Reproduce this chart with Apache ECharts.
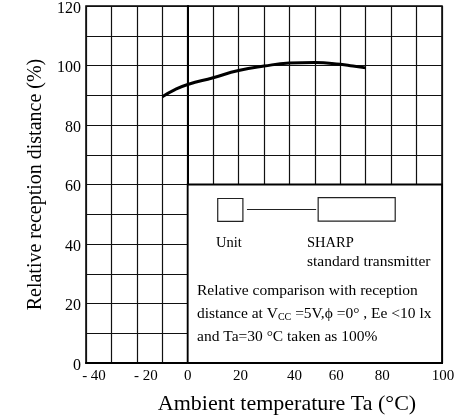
<!DOCTYPE html>
<html><head><meta charset="utf-8">
<script src="https://cdn.jsdelivr.net/npm/echarts@6/dist/echarts.min.js"></script>
<style>html,body{margin:0;padding:0;background:#fff}#c{width:458px;height:420px}</style>
</head><body><div id="c"></div>
<script>
const temperature = [-10, -5, 0, 10, 20, 30, 40, 50, 60, 65, 70];
const relDistance = [89.5, 91.9, 93.6, 95.9, 98.3, 99.8, 100.8, 101, 100.4, 99.8, 99.2];
const xLabelTicks = [-40, -20, 0, 20, 40, 60, 80, 100];
const yLabelTicks = [0, 20, 40, 60, 80, 100, 120];
const boxRange = [[0, 0], [100, 60]];
const noteLines = [
  'Relative comparison with reception',
  'distance at {n|V}{s|CC}{n| =5V,ϕ =0° , Ee <10 lx}',
  'and Ta=30 °C taken as 100%'
];

const font = 'Liberation Serif, Times New Roman, serif';
// small horizontal nudges (px) of the printed x labels, in xLabelTicks order
const xLabelNudge = [8, 9, 0, 2, 5, -4, -9, 1];
const xRich = {};
xLabelNudge.forEach((s, i) => {
  xRich['l' + i] = {fontFamily: font, fontSize: 15, color: '#000',
    padding: s >= 0 ? [0, 0, 0, 2 * s] : [0, -2 * s, 0, 0]};
});

const chart = echarts.init(document.getElementById('c'), null, {renderer: 'canvas'});
const seriesData = temperature.map((t, i) => [t, relDistance[i]]);

chart.setOption({
  animation: false,
  backgroundColor: '#fff',
  grid: {left: 86, right: 16, top: 6, bottom: 57, containLabel: false, outerBoundsMode: 'none',
    show: true, borderColor: '#000', borderWidth: 1.5, backgroundColor: 'transparent'},
  xAxis: {
    type: 'value', min: -40, max: 100, interval: 10,
    name: 'Ambient temperature Ta (°C)', nameLocation: 'middle', nameGap: 30,
    nameTextStyle: {fontFamily: font, fontSize: 22, color: '#000', padding: [0, 0, 0, 46]},
    axisLine: {show: true, lineStyle: {color: '#000', width: 2}},
    axisTick: {show: false},
    axisLabel: {
      fontFamily: font, fontSize: 15, color: '#000', margin: 6, rich: xRich,
      formatter: v => {
        const i = xLabelTicks.indexOf(v);
        if (i < 0) return '';
        const t = v < 0 ? '- ' + Math.abs(v) : String(v);
        return '{l' + i + '|' + t + '}';
      }
    },
    splitLine: {show: true, lineStyle: {color: '#111', width: 1.2}}
  },
  yAxis: {
    type: 'value', min: 0, max: 120, interval: 10,
    name: 'Relative reception distance (%)', nameLocation: 'middle', nameGap: 39,
    nameTextStyle: {fontFamily: font, fontSize: 20, color: '#000'},
    axisLine: {show: true, lineStyle: {color: '#000', width: 2}},
    axisTick: {show: false},
    axisLabel: {
      fontFamily: font, fontSize: 16, color: '#000', margin: 5,
      rich: {y: {fontFamily: font, fontSize: 16, color: '#000', padding: [5, 0, 0, 0]}},
      formatter: v => yLabelTicks.includes(v) ? '{y|' + v + '}' : ''
    },
    splitLine: {show: true, lineStyle: {color: '#111', width: 1.2}}
  },
  series: [{
    type: 'line', data: seriesData, smooth: 0.5, showSymbol: false,
    lineStyle: {color: '#000', width: 3},
    z: 5,
    markArea: {
      silent: true,
      itemStyle: {color: '#fff', borderColor: '#000', borderWidth: 1.8},
      data: [[{coord: boxRange[0]}, {coord: boxRange[1]}]]
    }
  }]
});

const p = (x, y) => chart.convertToPixel({gridIndex: 0}, [x, y]);
const rectFromData = (x1, y1, x2, y2) => {
  const a = p(x1, y1), b = p(x2, y2);
  return {x: Math.min(a[0], b[0]), y: Math.min(a[1], b[1]), width: Math.abs(b[0] - a[0]), height: Math.abs(b[1] - a[1])};
};
const unitRect = rectFromData(11.8, 55.3, 21.7, 47.6);
const sharpRect = rectFromData(51.3, 55.6, 81.6, 47.7);
const l1 = p(23.3, 51.6), l2 = p(50.5, 51.6);
const txt = (x, y, text, size, extra) => ({
  type: 'text', x: x, y: y, z: 100,
  style: Object.assign({text: text, fontFamily: font, fontSize: size, fill: '#000', verticalAlign: 'middle', align: 'left'}, extra || {})
});

chart.setOption({
  graphic: [
    {type: 'rect', shape: unitRect, z: 100, style: {fill: '#fff', stroke: '#222', lineWidth: 1.2}},
    {type: 'rect', shape: sharpRect, z: 100, style: {fill: '#fff', stroke: '#222', lineWidth: 1.2}},
    {type: 'line', shape: {x1: l1[0], y1: l1[1], x2: l2[0], y2: l2[1]}, z: 100, style: {stroke: '#222', lineWidth: 1.2}},
    txt(216, 243, 'Unit', 14.5),
    txt(307, 243, 'SHARP', 14.5),
    txt(307, 262, 'standard transmitter', 15.5),
    txt(197, 291, noteLines[0], 15.5),
    {type: 'text', x: 197, y: 314, z: 100, style: {
      text: noteLines[1], fontFamily: font, fontSize: 15.5, fill: '#000', verticalAlign: 'middle', align: 'left',
      rich: {n: {fontFamily: font, fontSize: 15.5, fill: '#000'}, s: {fontFamily: font, fontSize: 10, fill: '#000', padding: [7, 0, 0, 0]}}
    }},
    txt(197, 337, noteLines[2], 15.5)
  ]
});
</script></body></html>
